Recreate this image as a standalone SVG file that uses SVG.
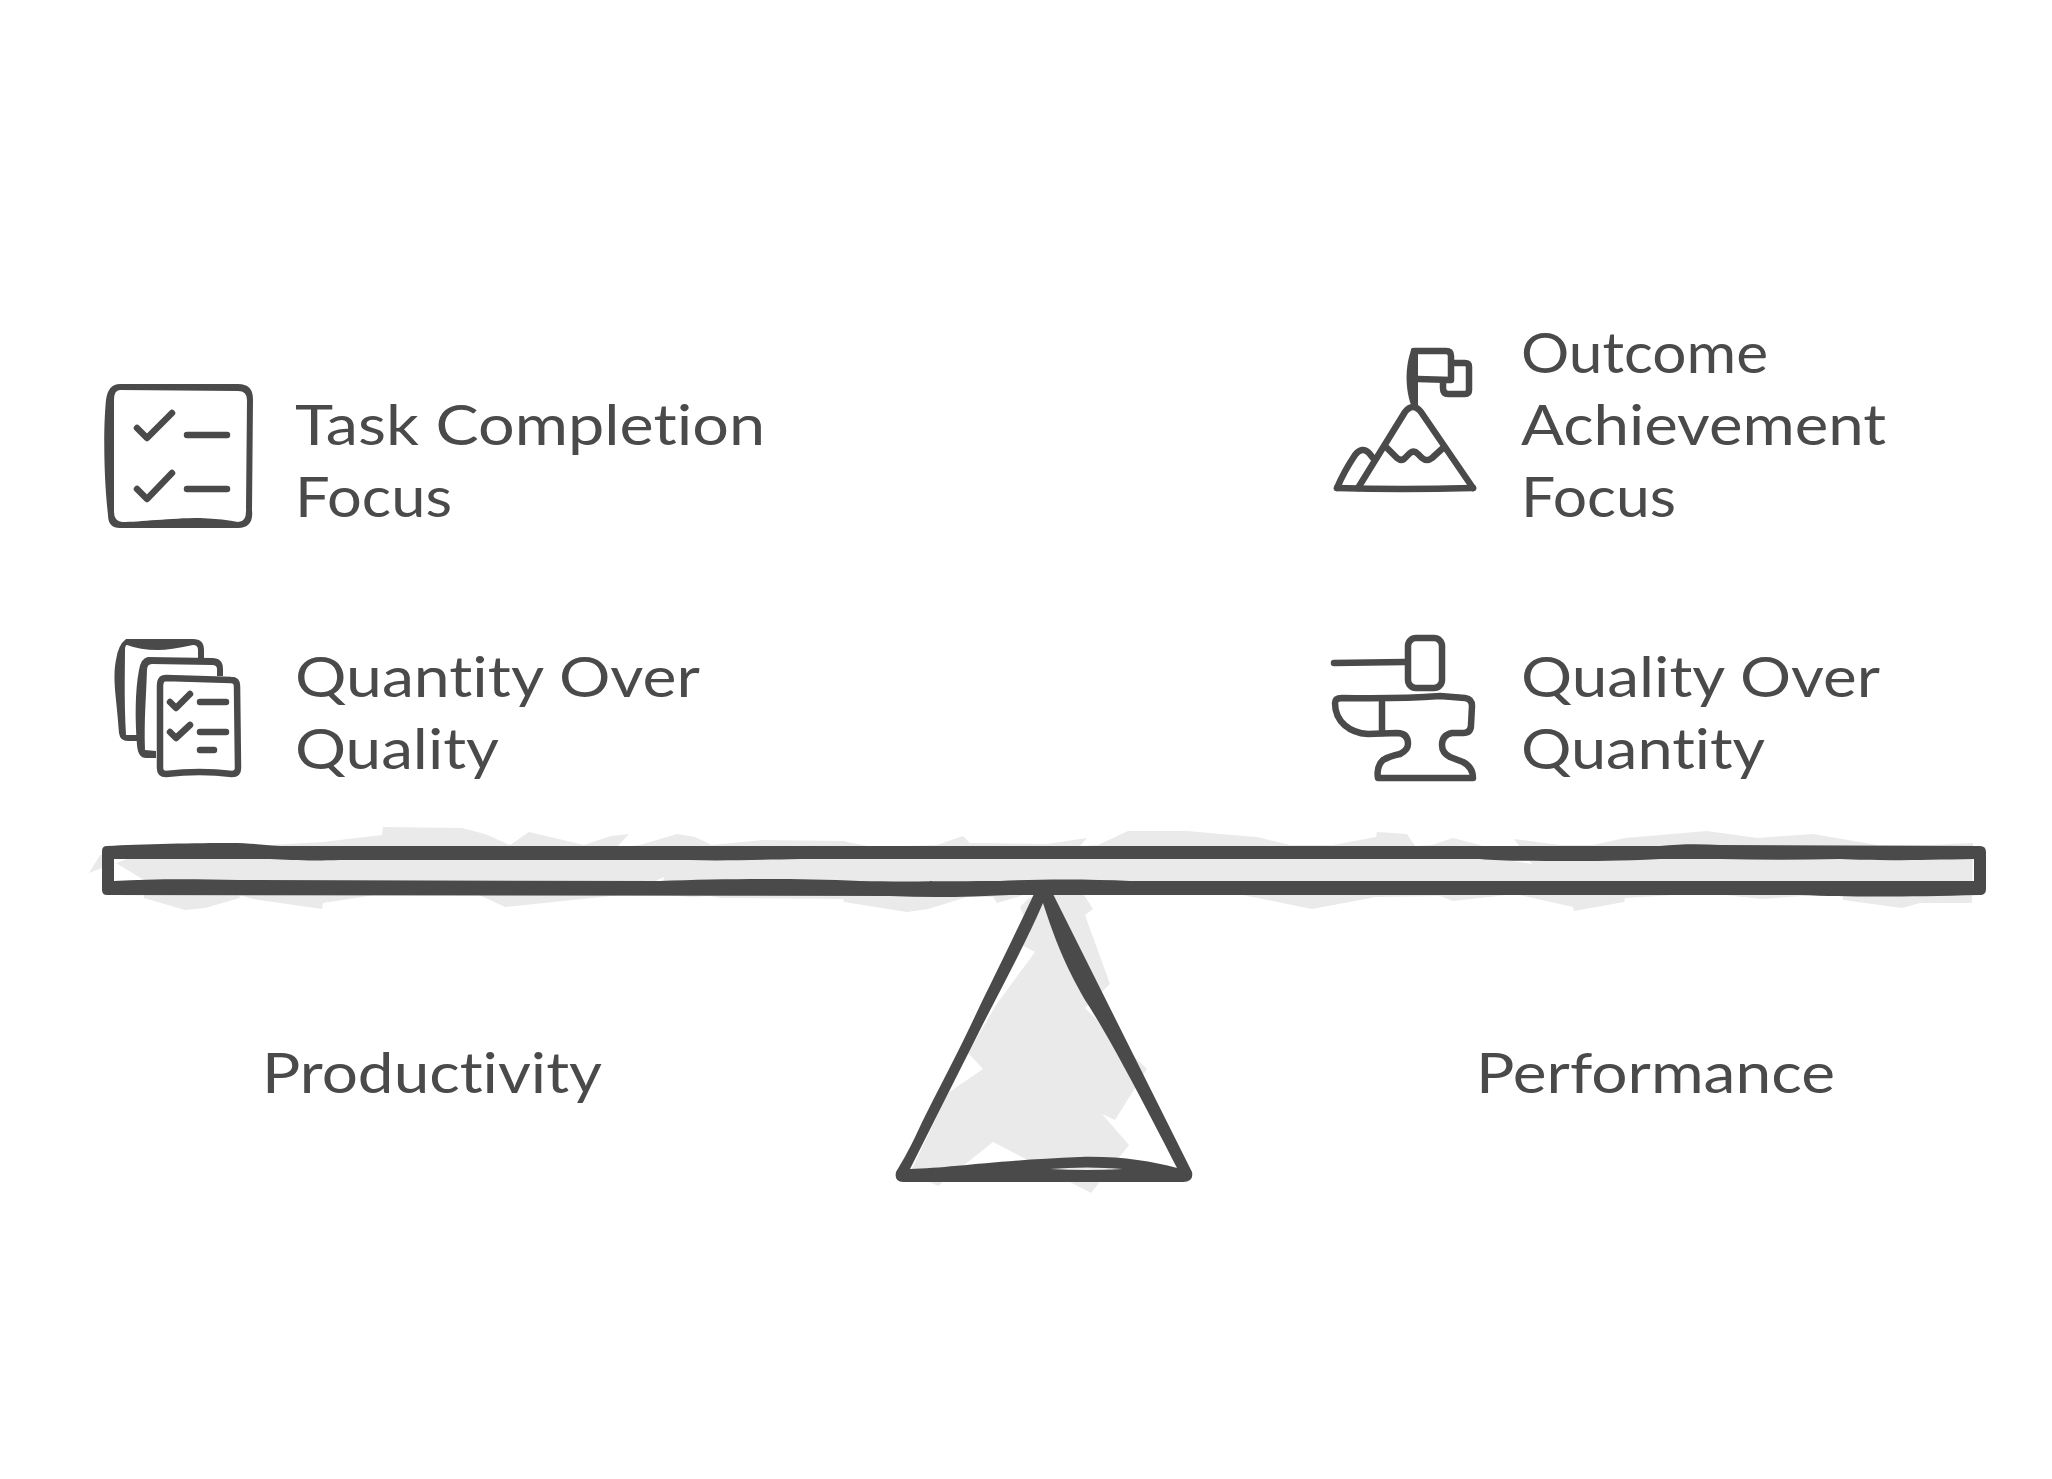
<svg xmlns="http://www.w3.org/2000/svg" width="2052" height="1479" viewBox="0 0 2052 1479">
<style>
.t{font-family:"Lato","Noto Sans","Liberation Sans",sans-serif;font-size:56px;fill:#4a4a4a;font-variant-ligatures:none}
.s{fill:none;stroke:#4a4a4a;stroke-width:6.5;stroke-linecap:round;stroke-linejoin:round}
.f{fill:#4a4a4a;fill-rule:evenodd;stroke:none}
.g{fill:#eaeaea;fill-rule:evenodd;stroke:none}
</style>
<rect width="2052" height="1479" fill="#ffffff"/>
<g id="fulcrum">
<path class="g" d="M1020,907L1027,900L1043,890L1084,895L1093,909L1085,915L1110,984L1085,1008L1147,1069L1115,1120L1102,1114L1129,1145L1091,1193L993,1142L938,1186L910,1173L948,1093L983,1069L968,1053L996,1005L1035,952L1022,945L1030,933Z"/>
<path class="f" d="M1030,886L1034,894C1010,945 985,995 967,1033C950,1068 930,1105 917,1133C908,1152 902,1162 896,1172Q894,1182 903,1182L1183,1182Q1194,1182 1192,1172L1053,894L1057,886ZM1043,903C1025,945 1000,990 980,1030L910,1169C950,1168 1000,1160 1080,1157C1120,1156 1150,1161 1177,1168C1140,1095 1105,1030 1085,1000C1065,965 1055,940 1043,903ZM1050,1169Q1087,1166 1123,1169Q1087,1171 1050,1169Z"/>
</g>
<g id="beam">
<path class="g" d="M89,873L100,855L323,842L382,835L383,827L462,828L485,834L510,845L529,832L584,845L611,836L629,834L617,847L640,845L677,834L695,837L712,845L722,844L763,840L845,841L847,842L873,847L937,845L963,836L970,843L1047,844L1087,838L1080,846L1098,845L1128,831L1188,831L1220,834L1257,837L1290,845L1333,845L1376,837L1377,832L1407,834L1415,846L1432,845L1453,838L1480,845L1500,859L1532,864L1514,839L1560,845L1593,845L1625,838L1707,831L1757,838L1813,834L1877,845L1930,845L1973,843L1972,903L1920,903L1902,908L1843,900L1842,893L1762,899L1707,893L1625,898L1624,902L1574,911L1573,907L1515,894L1453,901L1440,896L1376,897L1312,909L1238,894L1030,893L997,903L993,897L967,897L928,909L907,912L844,902L843,899L720,898L710,896L692,897L640,893L505,907L475,893L387,893L323,903L322,909L253,899L239,895L240,898L205,908L185,910L144,898L144,880L116,863ZM114,859L127,859L114,864ZM653,882L664,877L663,882Z"/>
<path class="f" d="M107,846C140,844 200,843 230,843C255,843 270,846 290,846L1660,846C1680,844 1700,844 1720,845L1980,846Q1986,846 1986,852L1986,889Q1986,895 1980,895C1900,897 1850,897 1800,895L1010,895C970,897 930,898 890,896L107,895Q102,895 102,890L102,851Q102,846 107,846ZM114,859L114,881C150,879 190,879 240,880L660,881C720,879 790,878 860,881C900,882 960,881 1000,881C1040,879 1090,879 1130,881L1974,881L1974,859C1920,860 1880,861 1840,859C1800,860 1760,860 1720,859L1660,859C1620,861 1590,861 1570,861C1530,861 1500,861 1480,859L800,859C750,860 720,861 690,860L340,860C310,861 290,860 270,859Z"/>
</g>
<g id="task-completion">
<path class="f" d="M120,384L238,384Q253,384 253,399L252,510Q254,528 238,528L120,528Q108,528 108,515C104,480 103,430 106,400Q108,384 120,384ZM120,390L238,391Q247,391 247,400L246,508Q247,522 238,522Q225,519 200,518C170,518 140,522 122,522Q114,521 114,512L114,400Q114,390 120,390Z"/>
<path class="s" d="M137,428L147,438L172,413M137,489L147,499L172,473M187,435L227,435M187,489L227,489"/>
<text class="t" x="295" y="445" textLength="470" lengthAdjust="spacingAndGlyphs">Task Completion</text>
<text class="t" x="295" y="517" textLength="157" lengthAdjust="spacingAndGlyphs">Focus</text>
</g>
<g id="quantity-over-quality">
<path class="f" d="M126,639L193,639Q204,639 204,650L204,659L198,659L198,650Q198,645 193,645Q170,650 158,650Q140,650 127,645Q125,645 125,650C125,670 124,700 126,735L138,735L138,741L128,741Q120,741 119,733C117,700 112,680 116,660Q118,645 126,639Z"/>
<path class="f" d="M148,657L212,658Q223,658 223,669L223,676L217,676L217,669Q217,665 212,665L152,664Q147,664 147,670C146,700 144,720 145,750L156,751L156,758L146,758Q138,758 137,745C135,720 135,690 139,670Q141,658 148,657Z"/>
<path class="s" d="M166,678L231,680Q237,680 237,686L238,768Q238,774 232,774Q200,770 166,774Q160,774 160,768L160,686Q160,678 166,678Z"/>
<path class="s" d="M170,702L176,708L190,694M170,732L176,738L190,725M200,702L226,702M200,732L226,732M200,750L214,750"/>
<text class="t" x="295" y="697" textLength="405" lengthAdjust="spacingAndGlyphs">Quantity Over</text>
<text class="t" x="295" y="769" textLength="204" lengthAdjust="spacingAndGlyphs">Quality</text>
</g>
<g id="outcome-achievement">
<path class="f" d="M1412,348C1406,362 1404,385 1411,405L1418,405L1418,348Z"/>
<path class="s" d="M1414,351L1446,351Q1451,351 1451,356L1451,380L1418,379M1451,363L1465,363Q1469,363 1469,367L1469,390Q1469,394 1465,394L1448,394Q1443,394 1443,388L1443,383"/>
<path class="s" d="M1358,488L1405,412Q1413,402 1421,412L1473,488"/>
<path class="s" d="M1373,458L1369,453Q1362,446 1355,455C1347,467 1342,476 1337,488"/>
<path class="s" d="M1337,488Q1400,490 1473,488"/>
<path class="s" d="M1387,448L1397,458Q1402,462 1406,457L1410,453Q1414,450 1418,454L1422,458Q1427,462 1432,458L1443,448"/>
<text class="t" x="1521" y="373" textLength="247" lengthAdjust="spacingAndGlyphs">Outcome</text>
<text class="t" x="1521" y="445" textLength="365" lengthAdjust="spacingAndGlyphs">Achievement</text>
<text class="t" x="1521" y="517" textLength="155" lengthAdjust="spacingAndGlyphs">Focus</text>
</g>
<g id="quality-over-quantity">
<path class="s" d="M1334,663L1405,662"/>
<rect class="s" x="1408" y="638" width="34" height="50" rx="8"/>
<path class="s" d="M1342,698Q1400,699 1440,696L1465,698Q1472,699 1472,706L1471,725Q1471,733 1463,733L1452,733Q1442,735 1442,745Q1442,753 1450,757L1463,762Q1473,767 1473,778L1378,778Q1376,767 1383,760Q1390,756 1400,754Q1408,750 1408,744Q1408,733 1397,733L1368,734C1350,733 1335,722 1335,703Q1335,698 1342,698Z"/>
<path class="s" d="M1382,702L1382,733"/>
<text class="t" x="1521" y="697" textLength="359" lengthAdjust="spacingAndGlyphs">Quality Over</text>
<text class="t" x="1521" y="769" textLength="244" lengthAdjust="spacingAndGlyphs">Quantity</text>
</g>
<g id="productivity"><text class="t" x="262" y="1093" textLength="340" lengthAdjust="spacingAndGlyphs">Productivity</text></g>
<g id="performance"><text class="t" x="1476" y="1093" textLength="359" lengthAdjust="spacingAndGlyphs">Performance</text></g>
</svg>
